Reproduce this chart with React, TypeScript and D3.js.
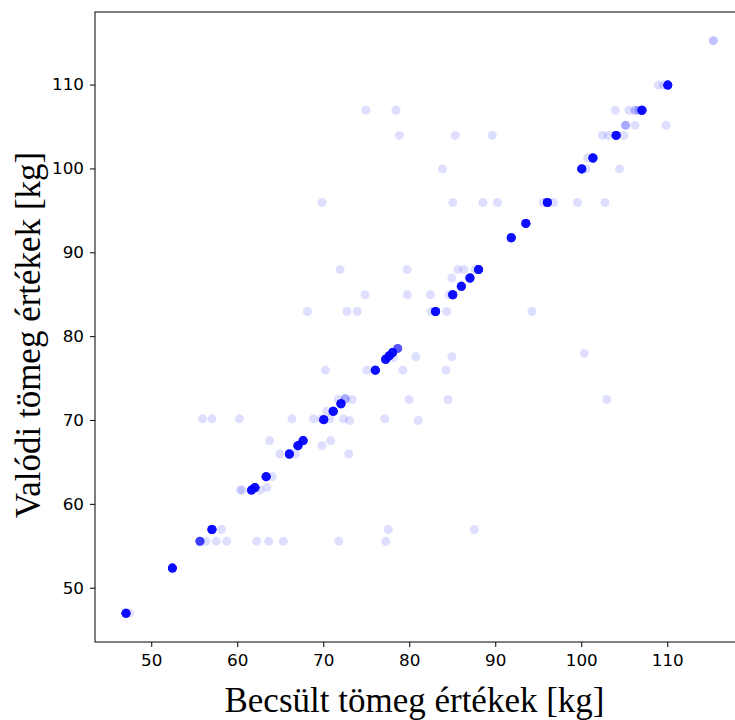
import React from "react";
import * as d3 from "d3";

// Estimated (x) and real (y) weights, with how many samples share each spot
const estimated: number[] = [
  // diagonal clusters
  47, 52.4, 55.6, 57, 61.6, 62, 63.3, 66, 67, 67.6, 70, 71.1, 72, 72.5, 76, 77.2, 77.6, 78, 78.6,
  83, 85, 86, 87, 88, 91.8, 93.5, 96, 100, 101.3, 104, 107, 110, 115.3, 105.1, 106.2, 106.6,
  // scattered
  74.9, 78.4, 103.9, 105.5,
  78.8, 85.3, 89.6, 102.4, 103.1, 104.9,
  108.9, 109.5,
  106.2, 109.8,
  100.7,
  83.8, 100.5, 104.4,
  69.8, 85.0, 88.5, 90.2, 95.5, 96.7, 99.5, 102.7,
  71.9, 79.7, 85.6, 86.3, 87.6,
  84.9,
  74.8, 79.7, 82.4, 84.6,
  68.1, 72.7, 73.9, 82.5, 84.3, 94.2,
  100.3,
  78.1, 80.7, 84.9,
  70.2, 75.0, 79.2, 84.2,
  71.7, 73.3, 79.9, 84.45, 102.9,
  70.35,
  55.9, 57.0, 60.2, 66.3, 68.8, 69.7, 70.7, 72.3, 77.1,
  73.0, 81.0,
  63.7, 70.8,
  69.8,
  64.9, 66.7, 72.9,
  64.0,
  60.3, 60.5, 62.6,
  63.4,
  58.1, 77.5, 87.5,
  56.3, 57.5, 58.7, 62.2, 63.6, 65.3, 71.75, 77.2,
  47.4,
];

const real: number[] = [
  47, 52.4, 55.6, 57, 61.7, 62, 63.3, 66, 67, 67.6, 70.1, 71.1, 72, 72.6, 76, 77.3, 77.7, 78.1, 78.6,
  83, 85, 86, 87, 88, 91.8, 93.5, 96, 100, 101.3, 104, 107, 110, 115.3, 105.2, 107, 107,
  107, 107, 107, 107,
  104, 104, 104, 104, 104, 104,
  110, 110,
  105.2, 105.2,
  101.3,
  100, 100, 100,
  96, 96, 96, 96, 96, 96, 96, 96,
  88, 88, 88, 88, 88,
  87,
  85, 85, 85, 85,
  83, 83, 83, 83, 83, 83,
  78,
  77.5, 77.6, 77.6,
  76, 76, 76, 76,
  72.5, 72.5, 72.5, 72.5, 72.5,
  71.1,
  70.2, 70.2, 70.2, 70.2, 70.2, 70.2, 70.2, 70.2, 70.2,
  70.0, 70.0,
  67.6, 67.6,
  67,
  66, 66, 66,
  63.3,
  61.7, 61.7, 61.7,
  62,
  57, 57, 57,
  55.6, 55.6, 55.6, 55.6, 55.6, 55.6, 55.6, 55.6,
  47,
];

const counts: number[] = [
  20, 20, 10, 20, 20, 20, 20, 20, 20, 20, 20, 20, 20, 3, 20, 20, 20, 20, 8,
  20, 20, 20, 20, 20, 20, 20, 20, 20, 20, 20, 20, 20, 2, 3, 2, 2,
];

const xTicks: number[] = [50, 60, 70, 80, 90, 100, 110];
const yTicks: number[] = [50, 60, 70, 80, 90, 100, 110];

const xLabel = "Becsült tömeg értékek [kg]";
const yLabel = "Valódi tömeg értékek [kg]";

export default function App() {
  const width = 735;
  const height = 720;
  const left = 95;
  const top = 12;
  const bottom = 642;
  const right = 740;

  const x = d3.scaleLinear().domain([43.4, 118.4]).range([left, right]);
  const y = d3.scaleLinear().domain([43.585, 118.715]).range([bottom, top]);

  const pts: { cx: number; cy: number; key: string }[] = [];
  estimated.forEach((e, i) => {
    const n = counts[i] ?? 1;
    for (let k = 0; k < n; k++) {
      pts.push({ cx: x(e), cy: y(real[i]), key: `${i}-${k}` });
    }
  });

  const tickFont = "'DejaVu Sans', sans-serif";
  const labelFont = "'Liberation Serif', 'Times New Roman', serif";
  const sx = 1.12;

  return (
    <svg
      width={width}
      height={height}
      style={{ position: "absolute", left: 0, top: 0, display: "block", background: "#fff" }}
    >
      <defs>
        <clipPath id="plotclip">
          <rect x={left} y={top} width={right - left} height={bottom - top} />
        </clipPath>
      </defs>
      <rect x={0} y={0} width={width} height={height} fill="#fff" />
      <g clipPath="url(#plotclip)">
        {pts.map((p) => (
          <circle key={p.key} cx={p.cx} cy={p.cy} r={4.5} fill="blue" fillOpacity={0.13} />
        ))}
      </g>
      {/* spines */}
      <rect x={left} y={top} width={right - left} height={bottom - top} fill="none" stroke="#000" strokeWidth={1} />
      {/* x ticks */}
      {xTicks.map((t) => (
        <g key={`x${t}`} transform={`translate(${x(t)},${bottom})`}>
          <line y1={0} y2={5} stroke="#000" strokeWidth={1} />
          <text
            transform={`translate(0,23.5) scale(${sx},1)`}
            textAnchor="middle"
            fontFamily={tickFont}
            fontSize={15}
            fill="#000"
          >
            {t}
          </text>
        </g>
      ))}
      {/* y ticks */}
      {yTicks.map((t) => (
        <g key={`y${t}`} transform={`translate(${left},${y(t)})`}>
          <line x1={0} x2={-5} stroke="#000" strokeWidth={1} />
          <text
            transform={`translate(-11,0) scale(${sx},1)`}
            dy="0.36em"
            textAnchor="end"
            fontFamily={tickFont}
            fontSize={15}
            fill="#000"
          >
            {t}
          </text>
        </g>
      ))}
      <text
        x={(left + right) / 2 - 3}
        y={712}
        textAnchor="middle"
        fontFamily={labelFont}
        fontSize={35}
        fill="#000"
      >
        {xLabel}
      </text>
      <text
        transform={`translate(40,${(top + bottom) / 2 + 8}) rotate(-90)`}
        textAnchor="middle"
        fontFamily={labelFont}
        fontSize={35}
        fill="#000"
      >
        {yLabel}
      </text>
    </svg>
  );
}
